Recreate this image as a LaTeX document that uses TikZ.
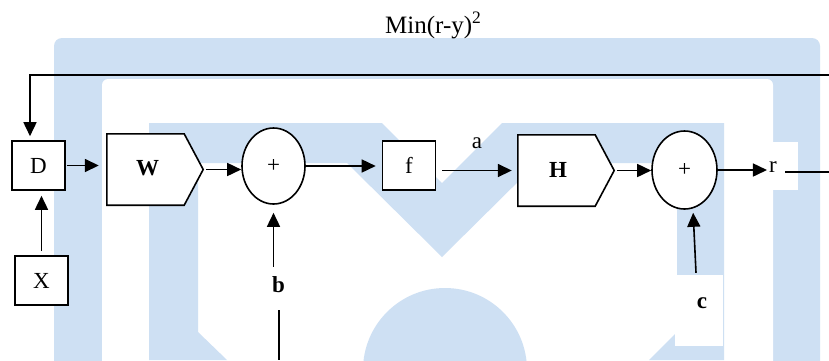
\documentclass[tikz,border=0pt]{standalone}
\usepackage{fontspec}
\setmainfont{Liberation Serif}
\usetikzlibrary{arrows.meta,shapes.geometric,calc}
\definecolor{wm}{RGB}{206,224,243}
\begin{document}
\begin{tikzpicture}[x=1pt,y=-1pt,
  txt/.style={inner sep=0pt,font=\fontsize{23}{27}\selectfont},
  box/.style={txt,draw,line width=1.6pt,fill=white,minimum width=53pt,minimum height=49pt},
  sumnode/.style={txt,draw,line width=1.6pt,fill=white,ellipse},
  pent/.style={draw=none,inner sep=0pt,minimum width=96pt,minimum height=71pt},
  outline/.style={draw,line width=1.6pt,fill=white},
  arr/.style={line width=1.6pt,-{Triangle[length=14pt,width=13pt]}},
  ln/.style={line width=1.6pt},
]
\useasboundingbox (0,0) rectangle (829,360);
% background watermark
\begin{scope}
\clip (0,0) rectangle (829,360);
\fill[white] (0,0) rectangle (829,360);
\fill[wm, rounded corners=8pt] (54,38) rectangle (820,420);
\fill[white, rounded corners=6pt] (102,79) rectangle (773,420);
\fill[wm] (149,123) -- (382,123) -- (442,183) -- (502,123) -- (724,123) -- (724,360)
  -- (649,360) -- (677,332) -- (677,163) -- (537,163) -- (442,257) -- (347,163)
  -- (198,163) -- (198,332) -- (227,360) -- (149,360) -- cycle;
\fill[wm] (445,370) circle[radius=82pt];
\fill[white] (765,142) rectangle (798,190);
\fill[white] (675,275) rectangle (723,346);
\end{scope}

% nodes
\node[txt,font=\fontsize{25}{30}\selectfont,anchor=base west] (min) at (385,33) {Min(r-y)\textsuperscript{2}};
\node[box] (D) at (38.5,165.5) {D};
\node[box] (X) at (41.5,280.5) {X};
\node[box] (f) at (409,165.5) {f};
\node[pent] (W) at (155,169.5) {};
\draw[outline] (W.north west) -- ($(W.north east)+(-19,0)$) -- (W.east) -- ($(W.south east)+(-19,0)$) -- (W.south west) -- cycle;
\node[txt] (Wt) at (147.5,168.5) {\textbf{W}};
\node[pent] (H) at (566,170.5) {};
\draw[outline] (H.north west) -- ($(H.north east)+(-19,0)$) -- (H.east) -- ($(H.south east)+(-19,0)$) -- (H.south west) -- cycle;
\node[txt] (Ht) at (558,170) {\textbf{H}};
\node[sumnode,minimum width=63pt,minimum height=76pt] (s1) at (273.5,166) {+};
\node[sumnode,minimum width=65pt,minimum height=78pt] (s2) at (684.5,170) {+};
\node[txt] (a) at (477,143) {a};
\node[txt] (r) at (773,167.5) {r};
\node[txt] (b) at (278.5,285) {\textbf{b}};
\node[txt] (c) at (702,303.5) {\textbf{c}};
\coordinate (e1) at (829,172);
\coordinate (e2) at (829,75);
\coordinate (k) at (30,75);
\coordinate (bb) at (279,360);

% connectors
\draw[arr,shorten <=1pt,shorten >=8pt] (D.east) -- (D.east -| W.west);
\draw[arr,shorten <=3pt] (W.east) -- (W.east -| s1.west);
\draw[arr,shorten >=6pt] (s1.east) -- (s1.east -| f.west);
\draw[arr,shorten <=6pt,shorten >=6pt] (f.east |- H.west) -- (H.west);
\draw[arr,shorten <=3pt] (H.east) -- (H.east -| s2.west);
\draw[arr,shorten >=2pt] (s2.east) -- (s2.east -| r.west);
\draw[ln,shorten <=8pt] (r.east |- e1) -- (e1);
\draw[arr,shorten >=4pt] (e2) -- (k) -- (k |- D.north);
\draw[arr,shorten <=4pt,shorten >=5pt] (X.north) -- (X.north |- D.south);
\draw[arr,shorten <=10pt,shorten >=8pt] (s1.south |- b.north) -- (s1.south);
\draw[ln,shorten <=17pt] (b.south -| bb) -- (bb);
\draw[arr,shorten >=3pt] ([xshift=-6pt,yshift=25pt]c.north) -- ([xshift=8.5pt]s2.south);
\end{tikzpicture}
\end{document}
